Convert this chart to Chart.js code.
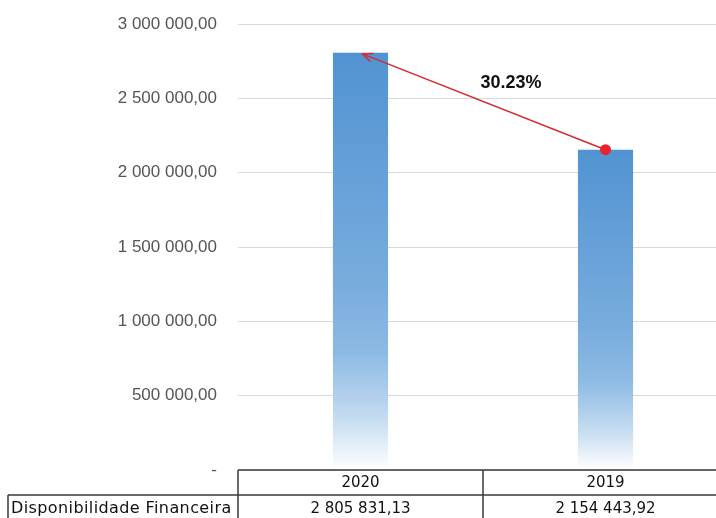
<!DOCTYPE html>
<html>
<head>
<meta charset="utf-8">
<script src="https://cdn.jsdelivr.net/npm/chart.js@4.4.0/dist/chart.umd.min.js"></script>
<style>
    html, body { margin: 0; padding: 0; overflow: hidden; background: #fff; }
    #wrap { width: 728px; height: 518px; }
</style>
</head>
<body>
<div id="wrap"><canvas id="chart" width="728" height="518"></canvas></div>
<script>
// data
const years = ['2020', '2019'];
const disponibilidade = [2805831.13, 2154443.92];
const rowLabel = 'Disponibilidade Financeira';
const yMin = 0;
const yMax = 3000000;
const yStep = 500000;

// "2 805 831,13" style
function fmt(v) {
    const parts = v.toFixed(2).split('.');
    return parts[0].replace(/\B(?=(\d{3})+(?!\d))/g, ' ') + ',' + parts[1];
}

const tableFont = '15px "DejaVu Sans", sans-serif';

// red arrow from 2019 top to 2020 top with growth label
const arrowPlugin = {
    id: 'arrow',
    afterDatasetsDraw(chart) {
        const meta = chart.getDatasetMeta(0);
        const from = meta.data[1];
        const to = meta.data[0];
        const ctx = chart.ctx;
        const x1 = from.x, y1 = from.y;
        const x2 = to.x + 2, y2 = to.y + 1;
        ctx.save();
        ctx.strokeStyle = '#d52b2f';
        ctx.lineWidth = 1.5;
        ctx.beginPath();
        ctx.moveTo(x1, y1);
        ctx.lineTo(x2, y2);
        ctx.stroke();
        // arrow head
        const ang = Math.atan2(y2 - y1, x2 - x1);
        const len = 11;
        ctx.beginPath();
        ctx.moveTo(x2 - len * Math.cos(ang - 0.4), y2 - len * Math.sin(ang - 0.4));
        ctx.lineTo(x2, y2);
        ctx.lineTo(x2 - len * Math.cos(ang + 0.4), y2 - len * Math.sin(ang + 0.4));
        ctx.stroke();
        // dot
        ctx.fillStyle = '#e8232b';
        ctx.beginPath();
        ctx.arc(x1, y1, 5.5, 0, Math.PI * 2);
        ctx.fill();
        // label
        const pct = ((disponibilidade[0] / disponibilidade[1] - 1) * 100).toFixed(2) + '%';
        ctx.fillStyle = '#111';
        ctx.font = 'bold 18px "Liberation Sans", Arial, sans-serif';
        ctx.textAlign = 'center';
        ctx.textBaseline = 'middle';
        ctx.fillText(pct, (x1 + x2) / 2 + 27, (y1 + y2) / 2 - 19);
        ctx.restore();
    }
};

// data table under the plot
const tablePlugin = {
    id: 'dataTable',
    afterDraw(chart) {
        const ctx = chart.ctx;
        const area = chart.chartArea;
        const x = chart.scales.x;
        const left = area.left;
        const right = area.right;
        const mid = (x.getPixelForValue(0) + x.getPixelForValue(1)) / 2;
        const top = area.bottom;
        const row2 = top + 25;
        const bottom = chart.height + 2;
        ctx.save();
        ctx.strokeStyle = '#3a3a3a';
        ctx.lineWidth = 1.5;
        ctx.beginPath();
        ctx.moveTo(left, top); ctx.lineTo(right, top);
        ctx.moveTo(8, row2); ctx.lineTo(right, row2);
        ctx.moveTo(left, top); ctx.lineTo(left, bottom);
        ctx.moveTo(mid, top); ctx.lineTo(mid, bottom);
        ctx.moveTo(8, row2); ctx.lineTo(8, bottom);
        ctx.stroke();

        ctx.fillStyle = '#111';
        ctx.font = tableFont;
        ctx.textBaseline = 'middle';
        ctx.textAlign = 'center';
        years.forEach((y, i) => {
            const cx = x.getPixelForValue(i);
            ctx.fillText(y, cx, top + 13);
            ctx.fillText(fmt(disponibilidade[i]), cx, row2 + 14);
        });
        ctx.textAlign = 'left';
        ctx.font = '16px "DejaVu Sans", sans-serif';
        ctx.letterSpacing = '0.4px';
        ctx.fillText(rowLabel, 11, row2 + 14);
        ctx.restore();
    }
};

const ctx = document.getElementById('chart').getContext('2d');

// gradient runs along each bar, from its top down to the base
function barGradient(context) {
    const chart = context.chart;
    const area = chart.chartArea;
    if (!area || context.dataIndex === undefined) return '#5b9bd5';
    const yScale = chart.scales.y;
    const top = yScale.getPixelForValue(context.raw);
    const base = yScale.getPixelForValue(0);
    const g = chart.ctx.createLinearGradient(0, top, 0, base);
    g.addColorStop(0, '#5193d2');
    g.addColorStop(0.55, '#78acdd');
    g.addColorStop(0.72, '#8dbae4');
    g.addColorStop(0.88, '#c6ddf1');
    g.addColorStop(1, '#ffffff');
    return g;
}

new Chart(ctx, {
    type: 'bar',
    data: {
        labels: years,
        datasets: [{
            label: rowLabel,
            data: disponibilidade,
            backgroundColor: barGradient,
            borderWidth: 0,
            categoryPercentage: 1,
            barPercentage: 0.225
        }]
    },
    options: {
        responsive: false,
        animation: false,
        layout: {
            padding: { top: 24, bottom: 48, right: 0, left: 0 }
        },
        plugins: {
            legend: { display: false },
            tooltip: { enabled: false }
        },
        scales: {
            x: {
                display: false
            },
            y: {
                min: yMin,
                max: yMax,
                afterFit(scale) {
                    scale.width = 238;
                    scale.paddingTop = 0;
                    scale.paddingBottom = 0;
                },
                border: { display: false },
                grid: {
                    color: '#d9d9d9',
                    drawTicks: false
                },
                ticks: {
                    stepSize: yStep,
                    padding: 21,
                    color: '#555',
                    font: { family: '"Liberation Sans", Arial, sans-serif', size: 17 },
                    callback: v => v === 0 ? '-' : fmt(v)
                }
            }
        }
    },
    plugins: [arrowPlugin, tablePlugin]
});
</script>
</body>
</html>
